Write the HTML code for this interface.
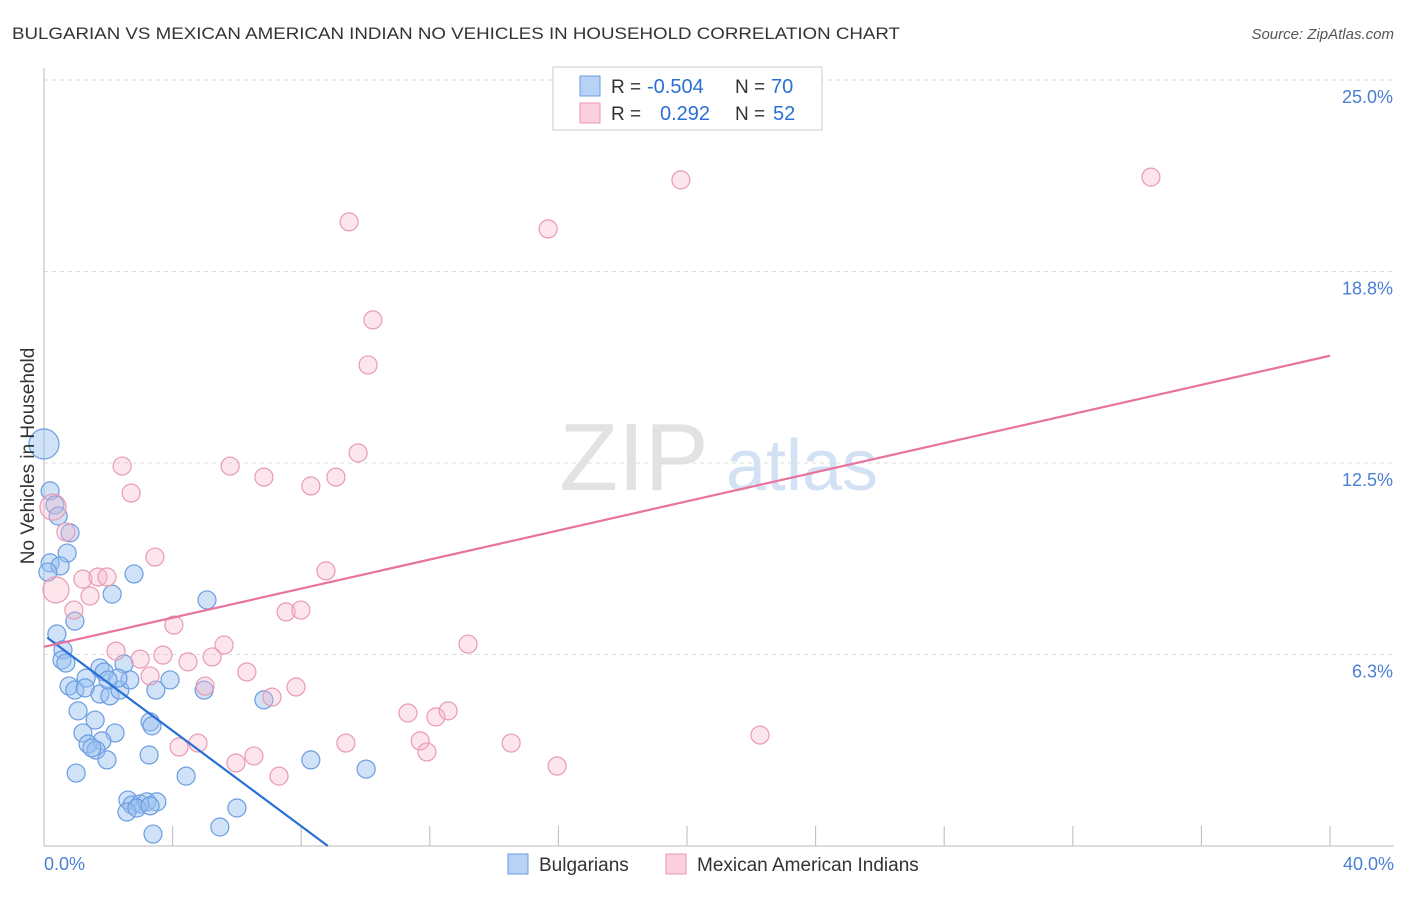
<!DOCTYPE html>
<html><head><meta charset="utf-8"><style>
body{margin:0;background:#fff;font-family:"Liberation Sans",sans-serif}
svg text{font-family:"Liberation Sans",sans-serif}
</style></head><body>
<svg id="chart" width="1406" height="892" xmlns="http://www.w3.org/2000/svg">
<text x="12" y="39" font-size="17" fill="#333" textLength="888" lengthAdjust="spacingAndGlyphs">BULGARIAN VS MEXICAN AMERICAN INDIAN NO VEHICLES IN HOUSEHOLD CORRELATION CHART</text>
<text x="1394" y="39" font-size="15" fill="#555" text-anchor="end" font-style="italic">Source: ZipAtlas.com</text>
<g><text x="634" y="490" font-size="96" fill="#e2e2e2" font-family="Liberation Serif" text-anchor="middle">ZIP</text><text x="802" y="490" font-size="72" fill="#d3e1f5" text-anchor="middle">atlas</text></g>
<g id="grid"></g>
<g id="axes"></g>
<g id="marks"></g>
<text transform="translate(34,456) rotate(-90)" font-size="19" fill="#333" text-anchor="middle">No Vehicles in Household</text>
<text x="44" y="870" font-size="18" fill="#4a7fd4">0.0%</text>
<text x="1394" y="870" font-size="18" fill="#4a7fd4" text-anchor="end">40.0%</text>
<g>
<rect x="553" y="67" width="269" height="63" fill="#fff" stroke="#ccc"/>
<rect x="580" y="76" width="20" height="20" fill="#b8d2f5" stroke="#6b9de0"/>
<rect x="580" y="103" width="20" height="20" fill="#fbcfdc" stroke="#e89ab4"/>
<text x="611" y="93" font-size="19" fill="#333">R =</text>
<text x="647" y="93" font-size="20" fill="#2a6fd6">-0.504</text>
<text x="735" y="93" font-size="19" fill="#333">N =</text>
<text x="771" y="93" font-size="20" fill="#2a6fd6">70</text>
<text x="611" y="120" font-size="19" fill="#333">R =</text>
<text x="660" y="120" font-size="20" fill="#2a6fd6">0.292</text>
<text x="735" y="120" font-size="19" fill="#333">N =</text>
<text x="773" y="120" font-size="20" fill="#2a6fd6">52</text>
</g>
<g>
<rect x="508" y="854" width="20" height="20" fill="#b8d2f5" stroke="#6b9de0"/>
<text x="539" y="871" font-size="19" fill="#333">Bulgarians</text>
<rect x="666" y="854" width="20" height="20" fill="#fbcfdc" stroke="#e89ab4"/>
<text x="697" y="871" font-size="19" fill="#333">Mexican American Indians</text>
</g>
</svg>
<script>
const yTicks=[25,18.75,12.5,6.25];
const yTickLabels=["25.0%","18.8%","12.5%","6.3%"];
const xTicks=[4,8,12,16,20,24,28,32,36,40];
const blueX=[0.0,0.19,0.34,0.44,0.81,0.72,0.19,0.50,0.12,2.80,2.12,5.07,0.96,0.40,0.59,0.56,0.68,2.49,1.74,3.92,1.87,1.31,0.78,0.96,1.28,1.74,2.05,2.36,2.67,2.30,1.99,3.48,4.98,6.84,1.06,1.59,3.30,3.36,1.21,2.21,1.37,1.80,1.62,1.49,1.96,3.27,1.00,4.42,8.30,10.02,2.61,2.74,2.99,3.20,3.51,2.58,2.89,3.30,6.00,5.47,3.39];
const blueY=[13.12,11.59,11.13,10.77,10.22,9.56,9.24,9.14,8.94,8.88,8.22,8.03,7.34,6.92,6.40,6.07,5.97,5.94,5.81,5.42,5.68,5.48,5.22,5.09,5.16,4.96,4.90,5.09,5.42,5.48,5.42,5.09,5.09,4.77,4.41,4.11,4.05,3.92,3.69,3.69,3.33,3.43,3.13,3.20,2.81,2.97,2.38,2.28,2.81,2.51,1.50,1.34,1.37,1.44,1.44,1.11,1.24,1.31,1.24,0.62,0.39];
const pinkX=[9.49,15.68,19.81,34.43,10.23,10.08,9.77,2.43,5.79,6.84,9.08,8.30,2.71,0.28,0.68,3.45,1.21,1.68,1.96,1.43,0.37,0.93,8.77,4.04,7.53,7.99,5.60,2.24,2.99,3.70,4.48,5.23,6.31,13.19,3.30,5.01,7.84,7.09,11.32,12.19,12.57,4.20,4.79,9.39,11.70,11.91,14.53,5.97,6.53,7.31,15.96,22.27];
const pinkY=[20.37,20.14,21.74,21.83,17.17,15.70,12.83,12.40,12.40,12.04,12.04,11.75,11.52,11.06,10.25,9.43,8.71,8.78,8.78,8.16,8.36,7.70,8.98,7.21,7.64,7.70,6.56,6.36,6.10,6.23,6.01,6.17,5.68,6.59,5.55,5.22,5.19,4.86,4.34,4.21,4.41,3.23,3.36,3.36,3.43,3.07,3.36,2.71,2.94,2.28,2.61,3.62];
const blueTrend=[[0.1,6.8],[8.83,0]];
const pinkTrend=[[0,6.5],[40,16.0]];
const NS="http://www.w3.org/2000/svg";
const X=v=>44+v*32.15, Y=v=>846-v*30.64;
function mk(t,a,p){const e=document.createElementNS(NS,t);for(const k in a)e.setAttribute(k,a[k]);document.getElementById(p).appendChild(e);return e;}
yTicks.forEach((t,i)=>{
 const l=mk('line',{x1:44,x2:1394,y1:Y(t),y2:Y(t),stroke:'#ddd','stroke-dasharray':'4,4'},'grid');
 
 
 const tx=mk('text',{x:1393,y:Y(t)+23,'font-size':18,fill:'#4a7fd4','text-anchor':'end'},'axes');
 tx.textContent=yTickLabels[i];
 
 
});
const ya=mk('line',{x1:44,x2:44,y1:68,y2:846,stroke:'#bbb'},'axes');


const xa=mk('line',{x1:44,x2:1394,y1:846,y2:846,stroke:'#bbb'},'axes');


xTicks.forEach(t=>{
 const l=mk('line',{x1:X(t),x2:X(t),y1:826,y2:846,stroke:'#bbb'},'axes');
 
 
});
blueX.forEach((v,i)=>{
 const c=mk('circle',{cx:X(v),cy:Y(blueY[i]),r:i==0?15:9,fill:'rgba(150,190,240,0.45)',stroke:'#6b9de0','stroke-width':1.2},'marks');
 
 
});
pinkX.forEach((v,i)=>{
 const big=(i==13||i==20);
 const c=mk('circle',{cx:X(v),cy:Y(pinkY[i]),r:big?13:9,fill:'rgba(248,180,200,0.35)',stroke:'#e89ab4','stroke-width':1.2},'marks');
 
 
});
const bl=mk('line',{x1:X(blueTrend[0][0]),y1:Y(blueTrend[0][1]),x2:X(blueTrend[1][0]),y2:Y(blueTrend[1][1]),stroke:'#2a6fd6','stroke-width':2.2},'marks');


const pl=mk('line',{x1:X(pinkTrend[0][0]),y1:Y(pinkTrend[0][1]),x2:X(pinkTrend[1][0]),y2:Y(pinkTrend[1][1]),stroke:'#e8739c','stroke-width':2.2},'marks');


</script>
</body></html>
